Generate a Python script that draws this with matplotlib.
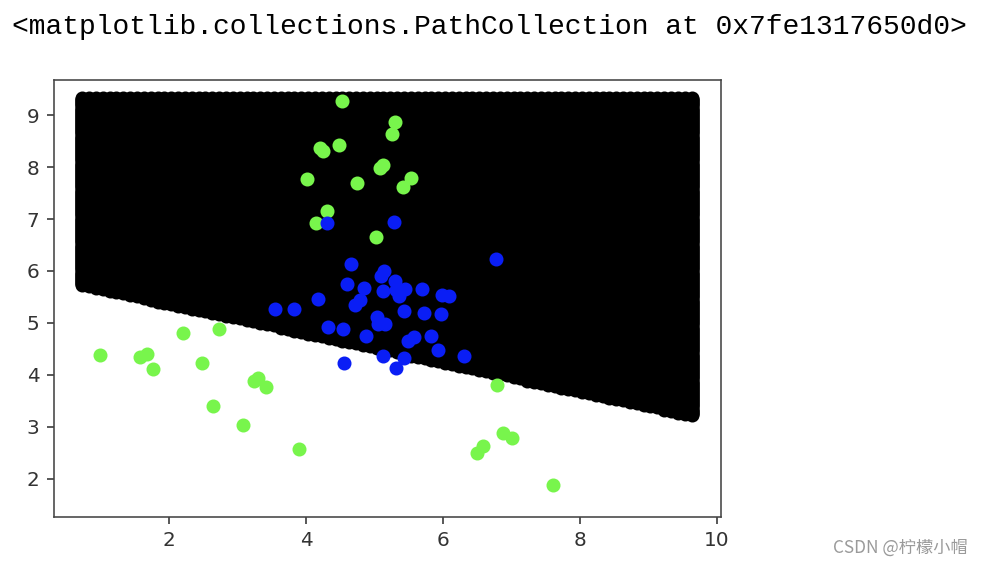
import numpy as np
import matplotlib.pyplot as plt

# points
green_x = [0.99, 1.57, 1.68, 1.77, 2.20, 2.48, 2.73, 2.64, 3.08, 3.24, 3.29, 3.41, 3.89,
           4.52, 4.20, 4.24, 4.48, 4.02, 4.75, 5.08, 5.12, 4.31, 4.14, 5.02, 5.30, 5.26,
           5.53, 5.42,
           6.79, 6.88, 7.01, 6.59, 6.50, 7.60]
green_y = [4.38, 4.35, 4.40, 4.12, 4.80, 4.22, 4.88, 3.40, 3.03, 3.89, 3.94, 3.77, 2.57,
           9.27, 8.37, 8.32, 8.42, 7.77, 7.69, 7.99, 8.04, 7.16, 6.93, 6.66, 8.87, 8.64,
           7.80, 7.61,
           3.80, 2.88, 2.79, 2.63, 2.49, 1.87]

blue_x = [4.30, 5.28, 4.65, 6.77, 5.14, 5.09, 5.30, 4.60, 4.85, 5.13, 5.32, 5.44, 5.35,
          5.69, 5.98, 6.08, 4.18, 4.78, 4.71, 3.55, 3.83, 5.43, 5.72, 5.97, 5.03, 5.05,
          5.15, 4.32, 4.54, 4.87, 5.49, 5.58, 5.83, 5.93, 6.31, 5.13, 5.43, 5.31, 4.55]
blue_y = [6.92, 6.95, 6.14, 6.24, 6.00, 5.90, 5.80, 5.74, 5.68, 5.61, 5.64, 5.66, 5.51,
          5.66, 5.53, 5.51, 5.46, 5.44, 5.35, 5.27, 5.26, 5.22, 5.20, 5.17, 5.11, 4.97,
          4.97, 4.92, 4.88, 4.74, 4.66, 4.73, 4.75, 4.47, 4.37, 4.37, 4.32, 4.13, 4.22]

# decision region (grid of predictions), boundary
grid_x_range = (0.73, 9.67)
grid_y_top = 9.33
grid_dx = 0.1
grid_dy = 0.02
boundary_left = (0.73, 5.72)
boundary_right = (9.67, 3.20)

fig = plt.figure(figsize=(984 / 144, 566 / 144), dpi=144)
ax = fig.add_axes([53.5 / 984, 1 - 517 / 566, (721 - 53.5) / 984, (517 - 80) / 566])

gx = np.arange(grid_x_range[0], grid_x_range[1] + 1e-9, grid_dx)
gy = np.arange(grid_y_top, 2.5, -grid_dy)
xx, yy = np.meshgrid(gx, gy)
slope = (boundary_right[1] - boundary_left[1]) / (boundary_right[0] - boundary_left[0])
line = boundary_left[1] + slope * (xx - boundary_left[0])
mask = yy >= line - 1e-9
ax.scatter(xx[mask], yy[mask], c='black', s=36)

ax.scatter(green_x, green_y, c='#78f54c', s=36)
ax.scatter(blue_x, blue_y, c='#0a1ef5', s=36)

ax.set_xlim(0.31, 10.06)
ax.set_ylim(1.26, 9.68)
ax.set_xticks([2, 4, 6, 8, 10])
ax.set_yticks([2, 3, 4, 5, 6, 7, 8, 9])
ax.tick_params(colors='#333333', labelsize=10)
for sp in ax.spines.values():
    sp.set_color('#444444')

fig.text(12 / 984, 1 - 27 / 566, '<matplotlib.collections.PathCollection at 0x7fe1317650d0>',
         family='Liberation Mono', fontsize=14, va='center', ha='left', color='black')
fig.text(968 / 984, 1 - 548 / 566, 'CSDN @柠檬小帽', family=['Noto Sans CJK SC', 'DejaVu Sans'],
         fontsize=8.6, va='center', ha='right', color='#9a9a9a')

fig.savefig('out.png', dpi=144)
